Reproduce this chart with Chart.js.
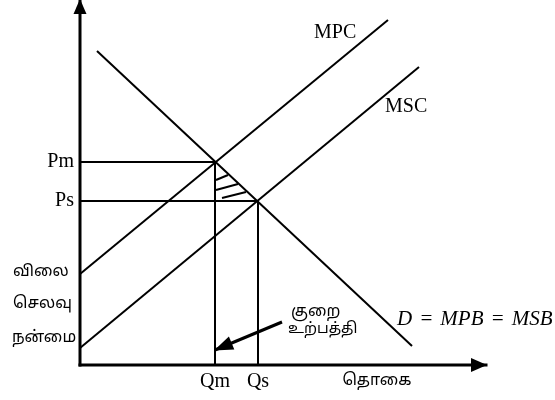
<!DOCTYPE html>
<html><head><meta charset="utf-8">
<script src="https://cdn.jsdelivr.net/npm/chart.js@4"></script>
<style>html,body{margin:0;padding:0;background:#fff}canvas{display:block}</style>
</head><body>
<canvas id="c" width="555" height="400"></canvas>
<script>
// ---- diagram values (quantity on x, price/cost/benefit on y) ----
const quantityLabels = ['Qm', 'Qs'];
const quantityValues = [13.5, 17.8];
const priceLabels = ['Pm', 'Ps'];
const priceValues = [20.3, 16.4];
const demandLine = [[1.7, 31.4], [33.2, 1.9]];   // D = MPB = MSB
const mpcLine = [[0, 9.1], [30.8, 34.5]];        // MPC
const mscLine = [[0, 1.7], [33.9, 29.8]];        // MSC
const hatchLines = [
  [[13.6, 18.5], [14.8, 19.0]],
  [[13.6, 17.5], [15.8, 18.1]],
  [[14.2, 16.7], [16.6, 17.3]]
];
const shortageArrow = [[20.2, 4.3], [13.5, 1.5]];
const axisY = [[0, 0], [0, 36.5]];
const axisX = [[0, 0], [40.6, 0]];

const toPts = a => a.map(([x, y]) => ({x, y}));
const line = (arr, w, extra) => Object.assign({
  data: toPts(arr), showLine: true, borderColor: '#000', backgroundColor: '#000',
  borderWidth: w, pointRadius: 0, pointHoverRadius: 0, tension: 0, clip: false, fill: false
}, extra || {});

const datasets = [
  line(axisY, 3, {arrow: {len: 14, hw: 6.5}, borderCapStyle: 'square'}),
  line(axisX, 3, {arrow: {len: 15, hw: 7}, borderCapStyle: 'square'}),
  line(demandLine, 2),
  line(mpcLine, 2),
  line(mscLine, 2),
  line([[0, priceValues[0]], [quantityValues[0], priceValues[0]], [quantityValues[0], 0]], 2),
  line([[0, priceValues[1]], [quantityValues[1], priceValues[1]], [quantityValues[1], 0]], 2),
  ...hatchLines.map(h => line(h, 2)),
  line(shortageArrow, 3, {arrow: {len: 18, hw: 7}})
];

const serif = '"Liberation Serif", "Times New Roman", serif';
const tamil = '"Noto Sans Tamil", "Latha", "Noto Sans", sans-serif';
const texts = [
  {t: 'MPC', x: 23.4, y: 33.2, align: 'left', font: '20px ' + serif},
  {t: 'MSC', x: 30.5, y: 25.8, align: 'left', font: '20px ' + serif},
  {t: 'விலை', x: -6.7, y: 9.2, align: 'left', font: '16px ' + tamil},
  {t: 'செலவு', x: -6.7, y: 6.0, align: 'left', font: '16px ' + tamil},
  {t: 'நன்மை', x: -6.8, y: 2.6, align: 'left', font: '16px ' + tamil},
  {t: 'தொகை', x: 29.7, y: -1.7, align: 'center', font: '16px ' + tamil},
  {t: 'குறை', x: 21.1, y: 5.2, align: 'left', font: '16px ' + tamil},
  {t: 'உற்பத்தி', x: 20.8, y: 3.5, align: 'left', font: '15px ' + tamil},
  {t: 'D \u200A= \u200AMPB \u200A= \u200AMSB', x: 31.7, y: 4.6, align: 'left', font: 'italic 21px ' + serif}
];

const arrowPlugin = {
  id: 'arrows',
  afterDatasetsDraw(chart) {
    const ctx = chart.ctx, xs = chart.scales.x, ys = chart.scales.y;
    chart.data.datasets.forEach(ds => {
      if (!ds.arrow) return;
      const n = ds.data.length;
      const a = ds.data[n - 2], b = ds.data[n - 1];
      const x1 = xs.getPixelForValue(a.x), y1 = ys.getPixelForValue(a.y);
      const x2 = xs.getPixelForValue(b.x), y2 = ys.getPixelForValue(b.y);
      const ang = Math.atan2(y2 - y1, x2 - x1);
      const c = Math.cos(ang), s = Math.sin(ang);
      const {len, hw} = ds.arrow;
      const bx = x2 - len * c, by = y2 - len * s;
      ctx.save();
      ctx.fillStyle = '#000';
      ctx.beginPath();
      ctx.moveTo(x2 + c, y2 + s);
      ctx.lineTo(bx - hw * s, by + hw * c);
      ctx.lineTo(bx + hw * s, by - hw * c);
      ctx.closePath();
      ctx.fill();
      ctx.restore();
    });
  }
};

const textPlugin = {
  id: 'texts',
  afterDraw(chart) {
    const ctx = chart.ctx, xs = chart.scales.x, ys = chart.scales.y;
    ctx.save();
    ctx.fillStyle = '#000';
    ctx.textBaseline = 'middle';
    texts.forEach(o => {
      ctx.font = o.font;
      ctx.textAlign = o.align;
      ctx.fillText(o.t, xs.getPixelForValue(o.x), ys.getPixelForValue(o.y));
    });
    ctx.restore();
  }
};

const noPad = s => { s.paddingTop = 0; s.paddingBottom = 0; s.paddingLeft = 0; s.paddingRight = 0; };

new Chart(document.getElementById('c'), {
  type: 'scatter',
  data: {datasets},
  options: {
    responsive: false,
    animation: false,
    events: [],
    layout: {padding: 0},
    plugins: {legend: {display: false}, tooltip: {enabled: false}},
    scales: {
      x: {
        type: 'linear', min: 0, max: 47.5,
        grid: {display: false, drawTicks: false},
        border: {display: false},
        afterBuildTicks: s => { s.ticks = quantityValues.map(v => ({value: v})); },
        afterFit: s => { s.height = 35; noPad(s); },
        ticks: {autoSkip: false, maxRotation: 0, padding: 5, color: '#000',
          font: {family: serif, size: 20},
          callback: (v, i) => quantityLabels[i]}
      },
      y: {
        type: 'linear', min: 0, max: 36.5,
        grid: {display: false, drawTicks: false},
        border: {display: false},
        afterBuildTicks: s => { s.ticks = priceValues.map(v => ({value: v})); },
        afterFit: s => { s.width = 80; noPad(s); },
        ticks: {autoSkip: false, padding: 6, color: '#000',
          font: {family: serif, size: 20},
          callback: (v, i) => priceLabels[i]}
      }
    }
  },
  plugins: [arrowPlugin, textPlugin]
});
</script>
</body></html>
